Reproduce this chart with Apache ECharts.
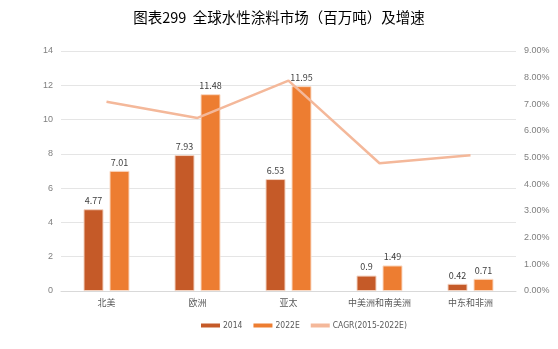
<!DOCTYPE html>
<html><head><meta charset="utf-8">
<script src="https://cdn.jsdelivr.net/npm/echarts@6/dist/echarts.min.js"></script>
<style>html,body{margin:0;padding:0;background:#fff}#c{width:558px;height:349px}</style>
</head><body><div id="c"></div>
<script>
const categories = ['北美','欧洲','亚太','中美洲和南美洲','中东和非洲'];
const v2014 = [4.77, 7.93, 6.53, 0.9, 0.42];
const v2022 = [7.01, 11.48, 11.95, 1.49, 0.71];
const cagr = [7.10, 6.49, 7.89, 4.79, 5.09];
const leftTicks = [0, 14, 2];
const rightTicks = [0, 9, 1];

const chart = echarts.init(document.getElementById('c'));
const lbl = {show:true, position:'top', color:'#404040', fontSize:9, distance:4, fontFamily:'Noto Sans CJK SC'};
chart.setOption({
  animation:false,
  title:{text:'图表299  全球水性涂料市场（百万吨）及增速', left:'center', top:5,
    textStyle:{fontFamily:'Noto Sans CJK SC', fontSize:14.5, fontWeight:'normal', color:'#000'}},
  grid:{left:61, right:42, top:51, bottom:58},
  legend:{left:196, top:316, itemWidth:19, itemHeight:4, itemGap:11,
    textStyle:{fontSize:8.5, color:'#595959', fontFamily:'DejaVu Sans Condensed', padding:[0,0,0,-2]},
    data:[{name:'2014', icon:'rect', itemStyle:{borderWidth:0}},{name:'2022E', icon:'rect', itemStyle:{borderWidth:0}},{name:'CAGR(2015-2022E)', icon:'rect'}]},
  xAxis:{type:'category', data:categories,
    axisLine:{lineStyle:{color:'#d9d9d9'}}, axisTick:{show:false},
    axisLabel:{color:'#595959', fontSize:9, margin:7, fontFamily:'Noto Sans CJK SC'}},
  yAxis:[
    {type:'value', min:leftTicks[0], max:leftTicks[1], interval:leftTicks[2],
     axisLabel:{color:'#7f7f7f', fontSize:9, margin:8},
     splitLine:{lineStyle:{color:'#e5e5e5'}}, axisLine:{show:false}},
    {type:'value', min:rightTicks[0], max:rightTicks[1], interval:rightTicks[2],
     axisLabel:{color:'#7f7f7f', fontSize:9, margin:8, formatter:v=>v.toFixed(2)+'%'},
     splitLine:{show:false}, axisLine:{show:false}}
  ],
  series:[
    {name:'2014', type:'bar', data:v2014, barWidth:20, barGap:'30%',
     itemStyle:{color:'#C55A28', borderColor:'#f3d2c0', borderWidth:1}, label:lbl},
    {name:'2022E', type:'bar', data:v2022, barWidth:20,
     itemStyle:{color:'#ED7D31', borderColor:'#fad9c3', borderWidth:1}, label:lbl},
    {name:'CAGR(2015-2022E)', type:'line', yAxisIndex:1, data:cagr, symbol:'none',
     lineStyle:{color:'#F4B89A', width:2.5}, itemStyle:{color:'#F4B89A'}}
  ]
});
</script></body></html>
